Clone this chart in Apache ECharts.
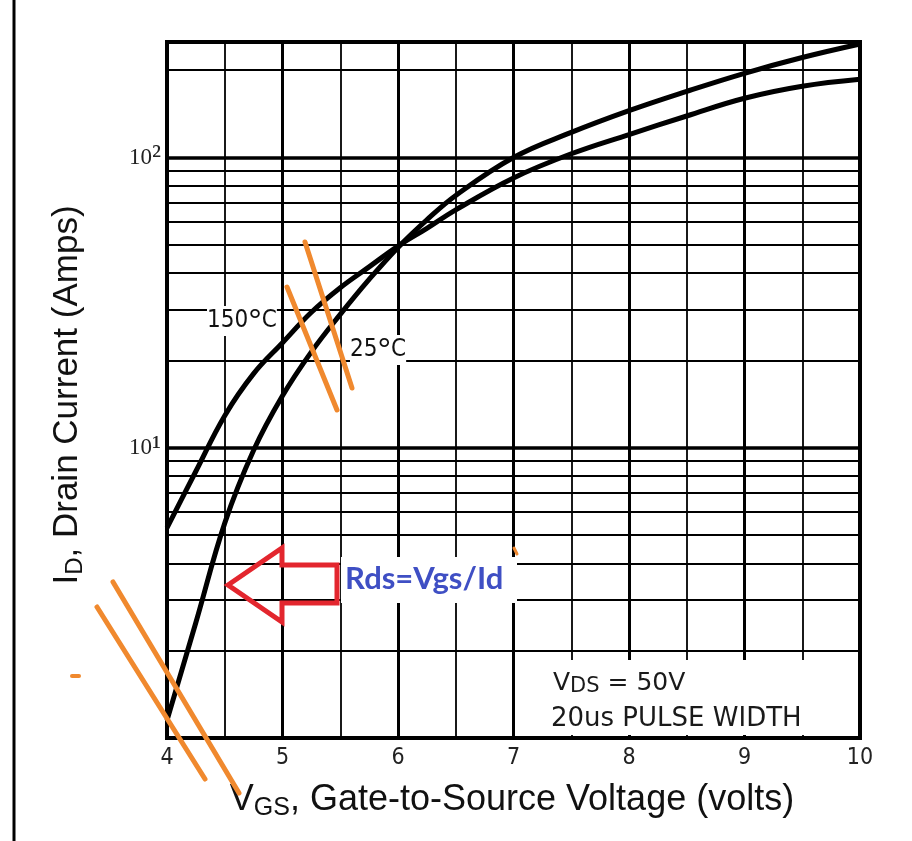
<!DOCTYPE html>
<html>
<head>
<meta charset="utf-8">
<script src="https://cdn.jsdelivr.net/npm/echarts@6/dist/echarts.min.js"></script>
<style>
html,body{margin:0;padding:0;background:#fff;}
#chart{width:912px;height:841px;}
</style>
</head>
<body>
<div id="chart"></div>
<script>
// ---- data ----
const vgs25  = [4.0, 4.25, 4.5, 4.75, 5.0, 5.25, 5.5, 5.75, 6.0, 6.25, 6.5, 7.0, 7.5, 8.0, 8.5, 9.0, 9.5, 10.0];
const id25   = [1.15, 2.5, 5.5, 9.8, 15.1, 21.4, 28.8, 38, 49, 61, 74, 100, 122, 145, 169, 195, 221, 246];
const vgs150 = [4.0, 4.25, 4.5, 4.75, 5.0, 5.25, 5.5, 5.75, 6.0, 6.25, 6.5, 7.0, 7.5, 8.0, 8.5, 9.0, 9.5, 10.0];
const id150  = [5.3, 8.3, 12.9, 18.0, 23, 29.3, 35.6, 42, 49.5, 57, 66, 85, 103, 120, 139, 160, 176, 186];
const xTicks = [4, 5, 6, 7, 8, 9, 10];
const yMinorGrid = [2, 3, 4, 5, 6, 7, 8, 9, 20, 30, 40, 50, 60, 70, 80, 90, 200];

const pts = (xs, ys) => xs.map((x, i) => [x, ys[i]]);

const chart = echarts.init(document.getElementById('chart'), null, {renderer: 'canvas'});
const orange = '#f0892e';
const red = '#e3262e';
const narrow = '"Liberation Sans Narrow","DejaVu Sans Condensed","Liberation Sans",sans-serif';

const option = {
  backgroundColor: '#ffffff',
  animation: false,
  grid: {left: 167, right: 52, top: 42, bottom: 103, show: true, borderColor: '#000', borderWidth: 4, backgroundColor: 'transparent'},
  xAxis: {
    type: 'value', min: 4, max: 10, interval: 1,
    axisLine: {show: false}, axisTick: {show: false},
    axisLabel: {
      margin: 9, color: '#222', fontSize: 23,
      fontFamily: narrow,
      formatter: v => (xTicks.indexOf(Math.round(v)) >= 0 ? String(Math.round(v)) : '')
    },
    splitLine: {show: true, lineStyle: {color: '#000', width: 3}},
    minorTick: {show: false, splitNumber: 2},
    minorSplitLine: {show: true, lineStyle: {color: '#000', width: 1.8}}
  },
  yAxis: {
    type: 'log', logBase: 10, min: 1, max: 250,
    axisLine: {show: false}, axisTick: {show: false},
    axisLabel: {
      margin: 6, color: '#222',
      formatter: v => {
        const r = Math.round(v);
        if (r === 10) return '{b|10}{s|¹}';
        if (r === 100) return '{b|10}{s|²}';
        return '';
      },
      rich: {
        b: {fontSize: 23, fontFamily: '"Liberation Serif","DejaVu Serif",serif', color: '#222'},
        s: {fontSize: 30, fontFamily: '"Liberation Serif","DejaVu Serif",serif', color: '#222', verticalAlign: 'top'}
      }
    },
    splitLine: {show: true, lineStyle: {color: '#000', width: 3.5}}
  },
  series: [
    {
      name: 'grid-minor', type: 'line', data: [], z: 1, silent: true,
      markLine: {
        silent: true, symbol: 'none', animation: false,
        label: {show: false},
        lineStyle: {color: '#000', width: 2, type: 'solid'},
        data: yMinorGrid.map(v => ({yAxis: v}))
      }
    },
    {
      name: '25°C', type: 'line', data: pts(vgs25, id25), z: 5,
      showSymbol: false, smooth: 0.4,
      lineStyle: {color: '#000', width: 5}
    },
    {
      name: '150°C', type: 'line', data: pts(vgs150, id150), z: 5,
      showSymbol: false, smooth: 0.4,
      lineStyle: {color: '#000', width: 5}
    }
  ],
  graphic: [
    {type: 'line', shape: {x1: 14, y1: 0, x2: 14, y2: 841}, style: {stroke: '#000', lineWidth: 3}, z: 10},
    {
      type: 'text', x: 67, y: 395, rotation: Math.PI / 2, z: 10,
      style: {
        text: '{m|I}{s|D}{m|, Drain Current (Amps)}',
        align: 'center', verticalAlign: 'middle',
        rich: {
          m: {fontSize: 35, fontFamily: '"Liberation Sans",Arial,sans-serif', fill: '#111', lineHeight: 40},
          s: {fontSize: 24, fontFamily: '"Liberation Sans",Arial,sans-serif', fill: '#111', lineHeight: 14, verticalAlign: 'bottom'}
        }
      }
    },
    {
      type: 'text', x: 512, y: 800, z: 10,
      style: {
        text: '{m|V}{s|GS}{m|, Gate-to-Source Voltage (volts)}',
        align: 'center', verticalAlign: 'middle',
        rich: {
          m: {fontSize: 36, fontFamily: '"Liberation Sans",Arial,sans-serif', fill: '#111', lineHeight: 42},
          s: {fontSize: 25, fontFamily: '"Liberation Sans",Arial,sans-serif', fill: '#111', lineHeight: 14, verticalAlign: 'bottom'}
        }
      }
    },
    {
      type: 'text', x: 207, y: 321, z: 10,
      style: {
        text: '{n|150}{d|°}{n|C}', align: 'left', verticalAlign: 'middle', backgroundColor: '#fff',
        rich: {
          n: {fontSize: 24, fontFamily: narrow, fill: '#111', lineHeight: 26},
          d: {fontSize: 34, fontFamily: '"Liberation Sans",sans-serif', fill: '#111', verticalAlign: 'top', lineHeight: 30}
        }
      }
    },
    {
      type: 'text', x: 350, y: 350, z: 10,
      style: {
        text: '{n|25}{d|°}{n|C}', align: 'left', verticalAlign: 'middle', backgroundColor: '#fff',
        rich: {
          n: {fontSize: 24, fontFamily: narrow, fill: '#111', lineHeight: 26},
          d: {fontSize: 34, fontFamily: '"Liberation Sans",sans-serif', fill: '#111', verticalAlign: 'top', lineHeight: 30}
        }
      }
    },
    {type: 'rect', shape: {x: 540, y: 660, width: 312, height: 75}, style: {fill: '#fff'}, z: 8},
    {
      type: 'text', x: 553, y: 683, z: 10,
      style: {
        text: '{m|V}{s|DS}{m| = 50V}', align: 'left', verticalAlign: 'middle',
        rich: {
          m: {fontSize: 25, fontFamily: '"DejaVu Sans",sans-serif', fontWeight: 'normal', fill: '#1a1a1a', lineHeight: 28},
          s: {fontSize: 21, fontFamily: '"DejaVu Sans",sans-serif', fontWeight: 'normal', fill: '#1a1a1a', lineHeight: 12, verticalAlign: 'bottom'}
        }
      }
    },
    {
      type: 'text', x: 551, y: 719, z: 10,
      style: {text: '20us PULSE WIDTH', align: 'left', verticalAlign: 'middle', fontSize: 26, fontWeight: 'normal', fontFamily: '"DejaVu Sans",sans-serif', fill: '#1a1a1a'}
    },
    {
      type: 'polygon', z: 12,
      shape: {points: [[228, 585], [282, 548], [282, 565], [337, 565], [337, 603], [282, 603], [282, 622]]},
      style: {fill: 'none', stroke: red, lineWidth: 5, lineJoin: 'miter'}
    },
    {type: 'rect', shape: {x: 341, y: 557, width: 176, height: 46}, style: {fill: '#fff'}, z: 11},
    {
      type: 'text', x: 345, y: 579, z: 12,
      style: {text: 'Rds=Vgs/Id', align: 'left', verticalAlign: 'middle', fontSize: 31, fontWeight: 'bold', fontFamily: 'Lato,"Open Sans",sans-serif', fill: '#3f4fc4'}
    },
    {type: 'line', shape: {x1: 305, y1: 242, x2: 352, y2: 388}, style: {stroke: orange, lineWidth: 5, lineCap: 'round'}, z: 13},
    {type: 'line', shape: {x1: 287, y1: 287, x2: 337, y2: 410}, style: {stroke: orange, lineWidth: 5, lineCap: 'round'}, z: 13},
    {type: 'line', shape: {x1: 113, y1: 582, x2: 239, y2: 793}, style: {stroke: orange, lineWidth: 5, lineCap: 'round'}, z: 13},
    {type: 'line', shape: {x1: 97, y1: 607, x2: 205, y2: 779}, style: {stroke: orange, lineWidth: 5, lineCap: 'round'}, z: 13},
    {type: 'line', shape: {x1: 72, y1: 676, x2: 79, y2: 676}, style: {stroke: orange, lineWidth: 4, lineCap: 'round'}, z: 13},
    {type: 'line', shape: {x1: 514, y1: 548, x2: 517, y2: 554}, style: {stroke: orange, lineWidth: 3, lineCap: 'round'}, z: 13}
  ]
};
chart.setOption(option);
</script>
</body>
</html>
